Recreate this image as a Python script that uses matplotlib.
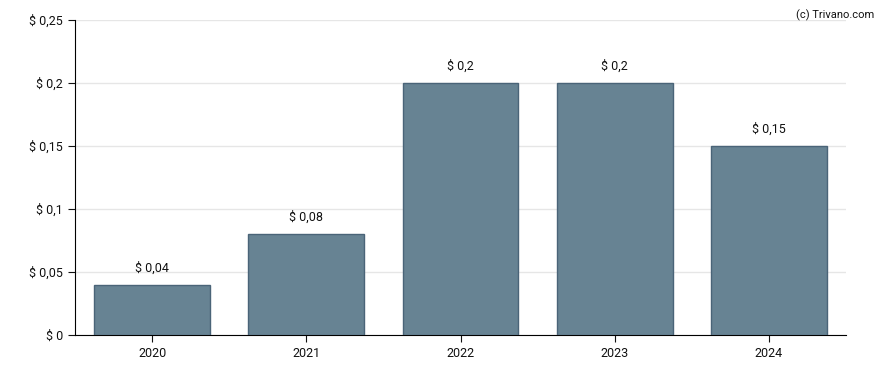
import matplotlib.pyplot as plt
from matplotlib.ticker import FuncFormatter

plt.rcParams['font.family'] = ['Roboto', 'DejaVu Sans']

years = ["2020", "2021", "2022", "2023", "2024"]
values = [0.04, 0.08, 0.2, 0.2, 0.15]
yticks = [0, 0.05, 0.1, 0.15, 0.2, 0.25]


def fmt(v):
    s = f"{v:.2f}".rstrip("0").rstrip(".")
    return "$ " + s.replace(".", ",")


fig = plt.figure(figsize=(8.88, 3.70), dpi=100)
ax = fig.add_axes([75 / 888, 1 - 335 / 370, 771 / 888, 315 / 370])

xs = range(len(years))
ax.bar(xs, values, width=0.75, color="#678393", edgecolor="#4a6478", linewidth=1, zorder=3)
for x, v in zip(xs, values):
    ax.text(x, v + 0.008, fmt(v), ha="center", va="bottom", fontsize=9, color="#111111")

ax.set_xlim(-0.5, len(years) - 0.5)
ax.set_ylim(0, 0.25)
ax.set_xticks(list(xs))
ax.set_xticklabels(years)
ax.set_yticks(yticks)
ax.yaxis.set_major_formatter(FuncFormatter(lambda v, p: fmt(v)))
ax.tick_params(labelsize=9, colors="#111111", length=5)
ax.grid(axis="y", color="#e6e6e6", linewidth=1, zorder=0)
for s in ["top", "right"]:
    ax.spines[s].set_visible(False)
ax.spines["left"].set_color("black")
ax.spines["bottom"].set_color("black")

fig.text(0.985, 0.975, "(c) Trivano.com", ha="right", va="top", fontsize=8, color="#111111")

fig.savefig("out.png", dpi=100)
